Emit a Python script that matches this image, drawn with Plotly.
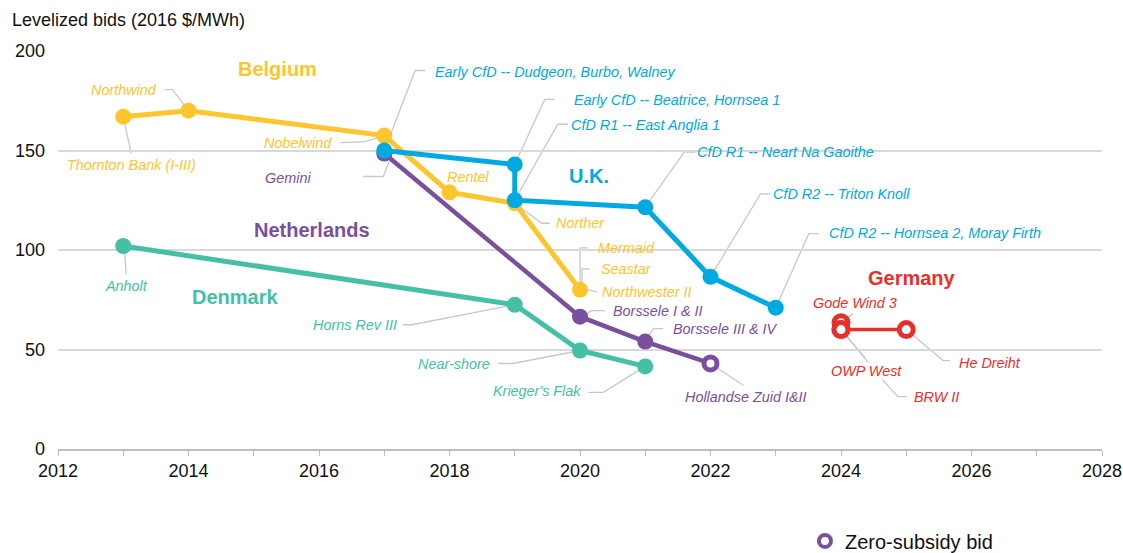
import plotly.graph_objects as go

# ---------------- data ----------------
years_be = [2013, 2014, 2017, 2018, 2019, 2020]
bids_be = [167, 170, 157.5, 129, 123.5, 80]

years_uk = [2017, 2019, 2019, 2021, 2022, 2023]
bids_uk = [150, 143, 125, 121.5, 86.5, 71]

years_nl = [2017, 2020, 2021, 2022]
bids_nl = [148.5, 66.5, 54, 43]
zero_nl = [False, False, False, True]

years_dk = [2013, 2019, 2020, 2021]
bids_dk = [102, 72.5, 49.5, 41.5]

years_de = [2024, 2024, 2024, 2025]
bids_de = [63.5, 60, 60, 60]
zero_de = [True, True, True, True]

x_ticks = [2012, 2014, 2016, 2018, 2020, 2022, 2024, 2026, 2028]
y_ticks = [0, 50, 100, 150, 200]

# ---------------- styles ----------------
YEL = "#FDC52E"
BLU = "#00A9E0"
PUR = "#7A4F9E"
TEA = "#45BFA6"
RED = "#E8302A"
GRID = "#d9d9d9"
LEAD = "#c8c8c8"
FONT = "Liberation Sans, Arial, sans-serif"

# labels: (point index, text, dx, dy (screen px, down +), xanchor, leader points in screen px)
labels_be = [
    (1, "Northwind", -31, -21, "right", [(0, 0), (-16, -21), (-24, -21)]),
    (0, "Thornton Bank (I-III)", 8, 48, "center", [(0, 0), (8, 37)]),
    (2, "Nobelwind", -51, 7, "right", [(0, 0), (-19, 6), (-44, 7)]),
    (3, "Rentel", -4, -15, "left", None),
    (4, "Norther", 40, 20, "left", [(0, 0), (27, 20), (35, 20)]),
    (5, "Mermaid", 17, -42, "left", [(0, 0), (0, -42), (8, -42)]),
    (5, "Seastar", 20, -21, "left", [(2, -2), (2, -21), (10, -21)]),
    (5, "Northwester II", 21, 2, "left", [(3, -1), (17, 2)]),
]
labels_uk = [
    (0, "Early CfD -- Dudgeon, Burbo, Walney", 50, -79, "left", [(0, 0), (31, -80), (41, -80)]),
    (1, "Early CfD -- Beatrice, Hornsea 1", 58, -64, "left", [(0, 0), (30, -65), (40, -65)]),
    (2, "CfD R1 -- East Anglia 1", 55, -75, "left", [(0, 0), (43, -76), (53, -76)]),
    (3, "CfD R1 -- Neart Na Gaoithe", 51, -55, "left", [(0, 0), (39, -55), (50, -55)]),
    (4, "CfD R2 -- Triton Knoll", 61, -83, "left", [(0, 0), (50, -83), (60, -83)]),
    (5, "CfD R2 -- Hornsea 2, Moray Firth", 52, -75, "left", [(0, 0), (33, -74), (43, -74)]),
]
labels_nl = [
    (0, "Gemini", -72, 25, "right", [(8, 0), (-1, 23), (-21, 23)]),
    (1, "Borssele I & II", 32, -6, "left", [(0, 0), (12, -6), (25, -6)]),
    (2, "Borssele III & IV", 27, -13, "left", [(0, 0), (8, -13), (18, -13)]),
    (3, "Hollandse Zuid I&II", -27, 34, "left", [(3, 2), (33, 22)]),
]
labels_dk = [
    (0, "Anholt", 3, 40, "center", [(1, 2), (3, 28)]),
    (1, "Horns Rev III", -117, 20, "right", [(0, 0), (-103, 20), (-112, 20)]),
    (2, "Near-shore", -89, 13, "right", [(0, 0), (-67, 13), (-82, 13)]),
    (3, "Krieger's Flak", -63, 25, "right", [(0, 0), (-42, 26), (-57, 26)]),
]
labels_de = [
    (2, "BRW II", 72, 67, "left", [(0, 0), (44, 53), (57, 67), (66, 67)]),
    (0, "Gode Wind 3", 14, -20, "center", [(0, 0), (12, -9)]),
    (1, "OWP West", 25, 41, "center", [(0, 0), (24, 28)]),
    (3, "He Dreiht", 52, 33, "left", [(0, 0), (37, 31), (44, 31)]),
]

countries = [
    ("Belgium", 2015.37, 191, YEL),
    ("U.K.", 2020.14, 137, BLU),
    ("Netherlands", 2015.89, 110, PUR),
    ("Denmark", 2014.71, 76.5, TEA),
    ("Germany", 2025.09, 86, RED),
]

fig = go.Figure()


def add_series(xs, ys, color, lw, zero=None, size=16, open_size=13, ring=5):
    if zero is None:
        zero = [False] * len(xs)
    fills = ["white" if z else color for z in zero]
    sizes = [open_size if z else size for z in zero]
    lws = [ring if z else 0 for z in zero]
    fig.add_trace(go.Scatter(
        x=xs, y=ys, mode="lines+markers",
        line=dict(color=color, width=lw),
        marker=dict(symbol="circle", color=fills, size=sizes, opacity=1,
                    line=dict(color=color, width=lws)),
        showlegend=False, hoverinfo="x+y", cliponaxis=False,
    ))


add_series(years_dk, bids_dk, TEA, 5)
add_series(years_nl, bids_nl, PUR, 4.5, zero_nl, open_size=13, ring=5)
add_series(years_be, bids_be, YEL, 5)
add_series(years_uk, bids_uk, BLU, 5)
add_series(years_de, bids_de, RED, 3.5, zero_de, open_size=14, ring=5)

# legend entry
fig.add_trace(go.Scatter(
    x=[None], y=[None], mode="markers", name="Zero-subsidy bid",
    marker=dict(symbol="circle", color="white", size=12, opacity=1,
                line=dict(color=PUR, width=4)),
    showlegend=True,
))

shapes = []
annotations = []


def add_labels(xs, ys, labels, color):
    for idx, text, dx, dy, xa, leader in labels:
        if leader:
            path = "M" + " L".join(f"{px},{-py}" for px, py in leader)
            shapes.append(dict(
                type="path", xref="x", yref="y",
                xsizemode="pixel", ysizemode="pixel",
                xanchor=xs[idx], yanchor=ys[idx], path=path,
                line=dict(color=LEAD, width=1.3), layer="below",
            ))
        annotations.append(dict(
            x=xs[idx], y=ys[idx], xref="x", yref="y", text=text,
            showarrow=False, xanchor=xa, yanchor="middle",
            xshift=dx, yshift=-dy,
            font=dict(family=FONT, size=14.4, color=color, style="italic"),
            bgcolor="white" if text == "OWP West" else None,
            borderpad=0,
        ))


add_labels(years_be, bids_be, labels_be, YEL)
add_labels(years_uk, bids_uk, labels_uk, BLU)
add_labels(years_nl, bids_nl, labels_nl, PUR)
add_labels(years_dk, bids_dk, labels_dk, TEA)
add_labels(years_de, bids_de, labels_de, RED)

for name, cx, cy, col in countries:
    annotations.append(dict(
        x=cx, y=cy, xref="x", yref="y", text=f"<b>{name}</b>", showarrow=False,
        xanchor="center", yanchor="middle",
        font=dict(family=FONT, size=20, color=col),
    ))

annotations.append(dict(
    x=0, y=1, xref="paper", yref="paper", xshift=-48, yshift=31,
    text="Levelized bids (2016 $/MWh)", showarrow=False,
    xanchor="left", yanchor="middle",
    font=dict(family=FONT, size=18, color="#111"),
))

fig.update_layout(
    width=1123, height=553,
    margin=dict(l=58, r=21, t=51, b=104, autoexpand=False),
    paper_bgcolor="white", plot_bgcolor="white",
    font=dict(family=FONT, color="#111"),
    shapes=shapes, annotations=annotations,
    showlegend=True,
    legend=dict(x=0.7155, y=-0.231, xanchor="left", yanchor="middle",
                font=dict(family=FONT, size=20, color="#111"),
                bgcolor="rgba(0,0,0,0)", itemwidth=30),
    xaxis=dict(
        range=[2012, 2028], tickvals=x_ticks, ticks="outside", ticklen=5,
        tickcolor="#bfbfbf", tickwidth=1, showline=True, linecolor="#bfbfbf",
        linewidth=1.5, showgrid=False, zeroline=False, automargin=False,
        minor=dict(dtick=1, tick0=2012, ticks="outside", ticklen=5, tickcolor="#bfbfbf"),
        tickfont=dict(family=FONT, size=18, color="#111"),
    ),
    yaxis=dict(
        range=[0, 200], tickvals=y_ticks, showgrid=True, gridcolor=GRID,
        gridwidth=1.5, zeroline=False, showline=False, ticks="",
        ticklabelstandoff=12, automargin=False,
        tickfont=dict(family=FONT, size=18, color="#111"),
    ),
)

fig.write_html(
    "out.html",
    config={"displayModeBar": False},
    post_script="document.body.style.margin='0';document.body.style.padding='0';",
)
